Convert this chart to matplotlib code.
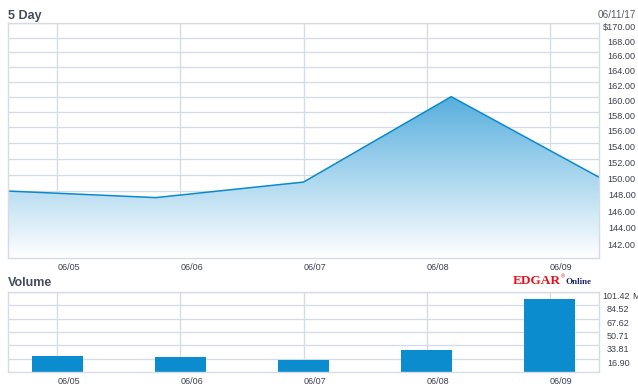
import matplotlib
matplotlib.use("Agg")
import matplotlib.pyplot as plt
from matplotlib.ticker import NullLocator, NullFormatter
import numpy as np

# %%
dates = ["06/05", "06/06", "06/07", "06/08", "06/09"]
price = [148.0, 147.2, 149.1, 160.0, 149.7]
price_ticks = [142, 144, 146, 148, 150, 152, 154, 156, 158, 160, 162, 164, 166, 168, 170]
price_grid = [140] + price_ticks
volume = [20.5, 19.3, 15.9, 28.1, 92.2]  # millions
volume_ticks = [16.90, 33.81, 50.71, 67.62, 84.52, 101.42]
as_of = "06/11/17"

# %%
W, H = 638, 387
grid_c = "#d6dce6"
line_c = "#0a8ace"
text_c = "#3a4152"
title_c = "#454c5e"
font = "Liberation Sans"
plt.rcParams["font.family"] = [font, "DejaVu Sans"]

fig = plt.figure(figsize=(W / 100, H / 100), dpi=100)
ax1 = fig.add_axes([8 / W, (H - 258.3) / H, 591 / W, 235 / H])
ax2 = fig.add_axes([8 / W, (H - 372.3) / H, 591 / W, 80.6 / H])

xmin, xmax = -0.4, 4.4
days = np.arange(len(dates))

# price panel
px = np.linspace(xmin, xmax, len(price))
ax1.set_yscale("log")
ax1.set_ylim(140, 170)
ax1.set_xlim(xmin, xmax)
for v in price_grid:
    ax1.axhline(v, color=grid_c, lw=1.0, zorder=0)
for d in days:
    ax1.axvline(d, color=grid_c, lw=1.0, zorder=0)

# opaque vertical gradient (blue at top -> white at bottom), clipped to the area
poly = ax1.fill_between(px, price, 140, color="none", lw=0)
rgb = np.array(matplotlib.colors.to_rgb(line_c))
f = np.linspace(1, 0, 256)[:, None, None]
grad = np.ones((256, 2, 3)) * (1 - f) + rgb * f
im = ax1.imshow(grad, extent=(0, 1, 0, 1), transform=ax1.transAxes,
                aspect="auto", interpolation="bilinear", zorder=1)
im.set_clip_path(poly.get_paths()[0], ax1.transData)
ax1.plot(px, price, color=line_c, lw=1.1, zorder=2)

ax1.yaxis.set_minor_locator(NullLocator())
ax1.yaxis.set_minor_formatter(NullFormatter())
ax1.set_yticks(price_ticks,
               labels=[("$" if v == price_ticks[-1] else "") + f"{v:.2f}" for v in price_ticks])
ax1.yaxis.tick_right()
ax1.tick_params(axis="y", length=0, pad=26.5, labelsize=6.6, labelcolor=text_c)
for lbl in ax1.get_yticklabels():
    lbl.set_ha("right")
    lbl.set_va("top")
ax1.set_xticks(days, labels=dates)
ax1.tick_params(axis="x", length=0, pad=3.5, labelsize=6.5, labelcolor=text_c)
for lbl in ax1.get_xticklabels():
    lbl.set_ha("left")

# volume panel
ax2.set_xlim(xmin, xmax)
ax2.set_ylim(0, volume_ticks[-1])
for v in volume_ticks:
    ax2.axhline(v, color=grid_c, lw=1.0, zorder=0)
for d in days:
    ax2.axvline(d, color=grid_c, lw=1.0, zorder=0)
ax2.bar(days, volume, width=0.415, color="#0a8ccf", zorder=2)
ax2.set_yticks(volume_ticks, labels=[f"{v:.2f}" for v in volume_ticks])
ax2.yaxis.tick_right()
ax2.tick_params(axis="y", length=0, pad=22.0, labelsize=6.5, labelcolor=text_c)
for lbl in ax2.get_yticklabels():
    lbl.set_ha("right")
    lbl.set_va("top")
ax2.set_xticks(days, labels=dates)
ax2.tick_params(axis="x", length=0, pad=3.5, labelsize=6.5, labelcolor=text_c)
for lbl in ax2.get_xticklabels():
    lbl.set_ha("left")

for ax in (ax1, ax2):
    for s in ax.spines.values():
        s.set_color(grid_c)
        s.set_linewidth(1.0)

# titles and extras
fig.text(8 / W, 1 - 19 / H, "5 Day", fontsize=9, fontweight="bold", color=title_c, va="baseline")
fig.text(8 / W, 1 - 286.5 / H, "Volume", fontsize=9, fontweight="bold", color=title_c, va="baseline")
fig.text(636 / W, 1 - 15.5 / H, as_of, fontsize=7.2, color="#555b66", ha="right", va="center")
fig.text(632 / W, 1 - 292 / H, "M", fontsize=6.5, color=text_c, ha="left", va="top")
fig.text(513 / W, 1 - 284 / H, "EDGAR", fontsize=9.5, fontweight="bold", color="#e8101a",
         family="Liberation Serif", va="baseline")
fig.text(561 / W, 1 - 278 / H, "®", fontsize=4, color="#e8101a", va="baseline")
fig.text(565 / W, 1 - 284 / H, "Online", fontsize=6.5, fontweight="bold", color="#1a2a6c",
         family="Liberation Serif", va="baseline")

plt.savefig("out.png", dpi=100)
